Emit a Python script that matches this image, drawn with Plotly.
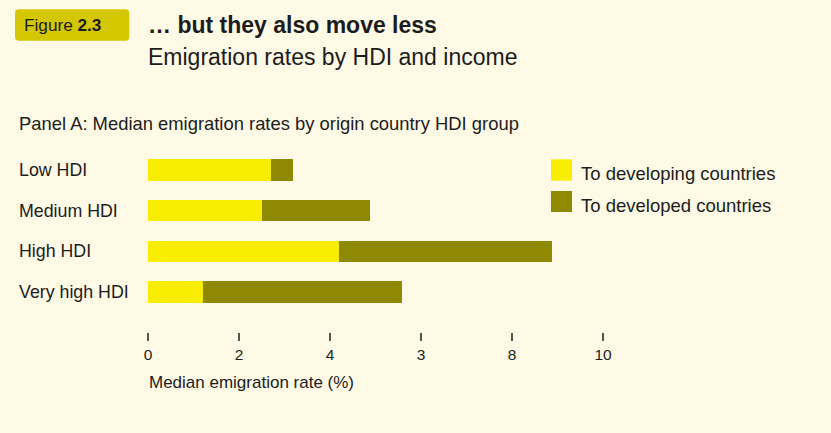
import plotly.graph_objects as go

# ---- data ----
categories = ["Low HDI", "Medium HDI", "High HDI", "Very high HDI"]
to_developing = [2.70, 2.51, 4.20, 1.21]
to_developed = [0.49, 2.37, 4.68, 4.37]
series_names = ["To developing countries", "To developed countries"]
tick_values = [0, 2, 4, 6, 8, 10]
tick_labels = ["0", "2", "4", "3", "8", "10"]

# ---- style / layout ----
W, H = 831, 433
BG = "#fefae6"
YELLOW = "#f8ed00"
OLIVE = "#8e8900"
BOX = "#d4c700"
TXT = "#1c1c1c"
FONT = "Liberation Sans, Arial, sans-serif"

ML, MR, MT, MB = 148, 228, 150, 101
PW = W - ML - MR
PH = H - MT - MB


def xp(px):
    return (px - ML) / PW


def yp(py):
    return (H - MB - py) / PH


fig = go.Figure()
fig.add_trace(go.Bar(y=categories, x=to_developing, orientation="h", name=series_names[0],
                     marker=dict(color=YELLOW, line=dict(width=0)), width=0.525))
fig.add_trace(go.Bar(y=categories, x=to_developed, orientation="h", name=series_names[1],
                     marker=dict(color=OLIVE, line=dict(width=0)), width=0.525))

shapes = []
# Figure label box with rounded corners
x0, x1, y0, y1 = xp(15), xp(129.3), yp(40.7), yp(9.3)
rx, ry = 4 / PW, 4 / PH
path = (f"M {x0+rx},{y1} L {x1-rx},{y1} Q {x1},{y1} {x1},{y1-ry} L {x1},{y0+ry} "
        f"Q {x1},{y0} {x1-rx},{y0} L {x0+rx},{y0} Q {x0},{y0} {x0},{y0+ry} "
        f"L {x0},{y1-ry} Q {x0},{y1} {x0+rx},{y1} Z")
shapes.append(dict(type="path", path=path, xref="paper", yref="paper",
                   fillcolor=BOX, line=dict(width=0), layer="below"))
# legend squares
for col, (ya, yb) in zip([YELLOW, OLIVE], [(159.3, 180.7), (191, 212)]):
    shapes.append(dict(type="rect", xref="paper", yref="paper",
                       x0=xp(551), x1=xp(572), y0=yp(yb), y1=yp(ya),
                       fillcolor=col, line=dict(width=0)))

ann = []
ann.append(dict(text="Figure <b>2.3</b>", x=xp(22), y=yp(25), xanchor="left", yanchor="middle",
                font=dict(family="Liberation Sans Narrow, Arial Narrow, " + FONT, size=17.2, color=TXT)))
ann.append(dict(text="<b>… but they also move less</b>", x=xp(146), y=yp(25), xanchor="left",
                yanchor="middle", font=dict(family=FONT, size=23, color=TXT)))
ann.append(dict(text="Emigration rates by HDI and income", x=xp(146), y=yp(56.5), xanchor="left",
                yanchor="middle", font=dict(family=FONT, size=23, color=TXT)))
ann.append(dict(text="Panel A: Median emigration rates by origin country HDI group", x=xp(17),
                y=yp(123.5), xanchor="left", yanchor="middle", font=dict(family=FONT, size=18.4, color=TXT)))
for c in categories:
    ann.append(dict(text=c, x=xp(17), y=c, yref="y", xanchor="left", yanchor="middle",
                    font=dict(family=FONT, size=17.8, color=TXT)))
for name, cy in zip(series_names, [173, 205]):
    ann.append(dict(text=name, x=xp(579), y=yp(cy), xanchor="left", yanchor="middle",
                    font=dict(family=FONT, size=18.5, color=TXT)))
ann.append(dict(text="Median emigration rate (%)", x=xp(147), y=yp(382), xanchor="left",
                yanchor="middle", font=dict(family=FONT, size=17, color=TXT)))
for a in ann:
    a.setdefault("xref", "paper")
    a.setdefault("yref", "paper")
    a["showarrow"] = False

fig.update_layout(
    width=W, height=H, barmode="stack", showlegend=False,
    paper_bgcolor=BG, plot_bgcolor=BG,
    margin=dict(l=ML, r=MR, t=MT, b=MB, pad=0, autoexpand=False),
    shapes=shapes, annotations=ann,
    xaxis=dict(range=[0, 10], tickvals=tick_values, ticktext=tick_labels, showgrid=False,
               zeroline=False, showline=False, ticks="outside", ticklen=8, tickwidth=1.5,
               tickcolor="#555555", tickfont=dict(family=FONT, size=15.5, color=TXT)),
    yaxis=dict(range=[3.983, -0.492], showticklabels=False, showgrid=False, zeroline=False,
               showline=False, ticks=""),
)

fig.write_html("out.html", config={"displayModeBar": False},
               post_script="document.body.style.margin='0';document.body.style.background='%s';" % BG)
